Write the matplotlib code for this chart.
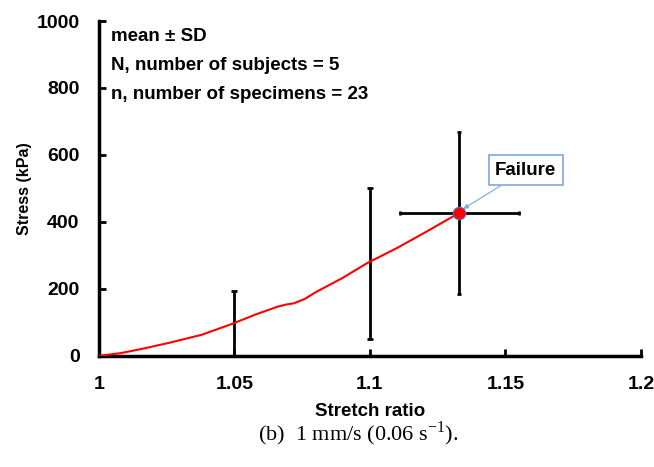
import matplotlib
matplotlib.use("Agg")
import matplotlib.pyplot as plt

plt.rcParams["mathtext.fontset"] = "custom"
plt.rcParams["mathtext.rm"] = "Liberation Serif"

# mean stress-stretch curve
stretch = [1.000, 1.008, 1.016, 1.026, 1.038, 1.049, 1.058, 1.066, 1.069, 1.072,
           1.076, 1.080, 1.090, 1.099, 1.110, 1.120, 1.133]
stress = [0, 8, 21, 39, 63, 95, 124, 147, 153, 157, 170, 190, 233, 277, 322, 367, 427]

# error bars (mean +/- SD)
eb_x = [1.05, 1.10]
eb_y = [95, 275]
eb_sd = [100, 225]

fail_x = 1.133
fail_y = 427
fail_xsd = 0.022
fail_ysd = 243

notes = ["mean ± SD", "N, number of subjects = 5", "n, number of specimens = 23"]
caption = "(b)  1 mm/s (0.06 s$^{-1}$)."

sans = "Liberation Sans"

fig = plt.figure(figsize=(6.54, 4.67), dpi=100)
ax = fig.add_axes([0.151, 0.238, 0.829, 0.717])

ax.plot(stretch, stress, color="red", lw=1.5, zorder=3)
ax.errorbar(eb_x, eb_y, yerr=eb_sd, fmt="none", ecolor="black", elinewidth=2,
            capsize=2, capthick=2, zorder=2)
ax.errorbar([fail_x], [fail_y], xerr=fail_xsd, yerr=fail_ysd, fmt="none",
            ecolor="black", elinewidth=2, capsize=1.5, capthick=2, zorder=2)
ax.plot([fail_x], [fail_y], "o", color="red", ms=9, mec="#4a78c8", mew=0.8, zorder=4)

ax.set_xlim(1, 1.2)
ax.set_ylim(0, 1000)
ax.set_xticks([1, 1.05, 1.1, 1.15, 1.2])
ax.set_xticklabels(["1", "1.05", "1.1", "1.15", "1.2"])
ax.set_yticks(range(0, 1001, 200))

for s in ["top", "right"]:
    ax.spines[s].set_visible(False)
for s in ["left", "bottom"]:
    ax.spines[s].set_linewidth(2.5)
ax.tick_params(direction="in", length=5, width=2)
ax.tick_params(axis="x", pad=14.5)
ax.tick_params(axis="y", pad=13.8)
for lab in ax.get_xticklabels() + ax.get_yticklabels():
    lab.set_fontfamily(sans)
    lab.set_fontweight("bold")
    lab.set_fontsize(14)

ax.set_xlabel("Stretch ratio", fontfamily=sans, fontweight="bold", fontsize=13.5, labelpad=7)
ax.set_ylabel("Stress (kPa)", fontfamily=sans, fontweight="bold", fontsize=11.5, labelpad=3)

for i, t in enumerate(notes):
    ax.text(0.022, 0.955 - i * 0.087, t, transform=ax.transAxes, fontfamily=sans,
            fontweight="bold", fontsize=13.5, va="center", ha="left")

ax.annotate("Failure", xy=(fail_x + 0.0015, fail_y + 12), xytext=(1.1575, 555),
            fontfamily=sans, fontweight="bold", fontsize=13.5, ha="center", va="center",
            bbox=dict(boxstyle="square,pad=0.35", fc="white", ec="#7fa7d9", lw=1.2),
            arrowprops=dict(arrowstyle="-|>", color="#7fa7d9", lw=0.8,
                            mutation_scale=7, shrinkA=0, shrinkB=0))

fig.text(0.548, 0.072, caption, fontfamily="Liberation Serif", fontsize=16,
         ha="center", va="center")

fig.savefig("out.png", dpi=100)
